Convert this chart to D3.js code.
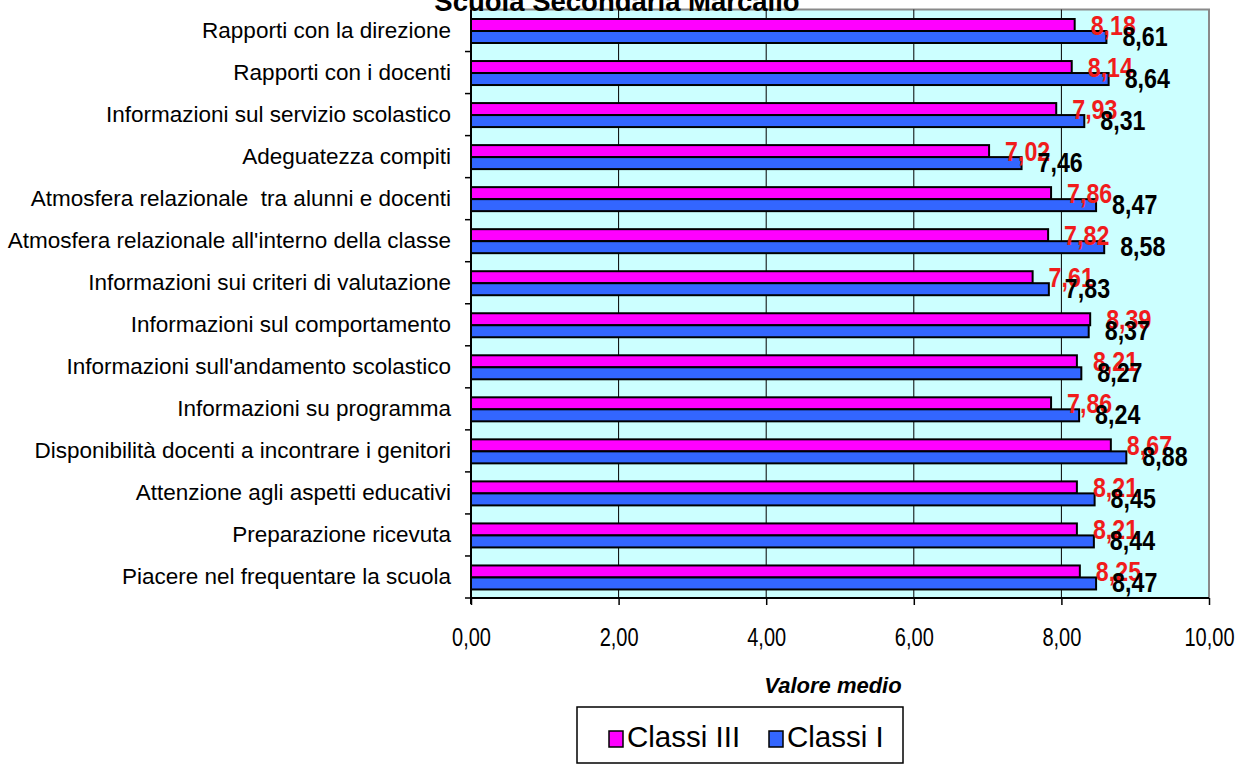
<!DOCTYPE html>
<html>
<head>
<meta charset="utf-8">
<script src="https://cdn.jsdelivr.net/npm/d3@7"></script>
<style>
  body { margin: 0; background: #fff; }
  svg { display: block; }
  text { font-family: "Liberation Sans", Arial, sans-serif; }
</style>
</head>
<body>
<div id="chart"></div>
<script>
const width = 1240, height = 764;

// data, top to bottom
const categories = [
    "Rapporti con la direzione",
    "Rapporti con i docenti",
    "Informazioni sul servizio scolastico",
    "Adeguatezza compiti",
    "Atmosfera relazionale  tra alunni e docenti",
    "Atmosfera relazionale all'interno della classe",
    "Informazioni sui criteri di valutazione",
    "Informazioni sul comportamento",
    "Informazioni sull'andamento scolastico",
    "Informazioni su programma",
    "Disponibilità docenti a incontrare i genitori",
    "Attenzione agli aspetti educativi",
    "Preparazione ricevuta",
    "Piacere nel frequentare la scuola"
];
const classiIII = [8.18, 8.14, 7.93, 7.02, 7.86, 7.82, 7.61, 8.39, 8.21, 7.86, 8.67, 8.21, 8.21, 8.25];
const classiI   = [8.61, 8.64, 8.31, 7.46, 8.47, 8.58, 7.83, 8.37, 8.27, 8.24, 8.88, 8.45, 8.44, 8.47];
const seriesNames = ["Classi III", "Classi I"];
const xTicks = [0, 2, 4, 6, 8, 10];

const colors = { "Classi III": "#ff00ff", "Classi I": "#3366ff" };
const labelColors = { "Classi III": "#f01c1c", "Classi I": "#000" };

const rows = categories.map((c, i) => ({
    cat: c,
    values: [
        { series: "Classi III", value: classiIII[i] },
        { series: "Classi I", value: classiI[i] }
    ]
}));

const plot = { left: 471, right: 1209, top: 9.5, bottom: 598 };

const svg = d3.select("#chart").append("svg")
    .attr("width", width)
    .attr("height", height);

const x = d3.scaleLinear().domain([0, 10]).range([plot.left, plot.right]);
const y = d3.scaleBand().domain(categories).range([plot.top, plot.bottom]);
const ySub = d3.scaleBand().domain(seriesNames).range([9.5, 33.5]);

const fmt = v => d3.format(".2f")(v).replace(".", ",");

// background
svg.append("rect")
    .attr("x", plot.left).attr("y", plot.top)
    .attr("width", plot.right - plot.left)
    .attr("height", plot.bottom - plot.top)
    .attr("fill", "#ccffff")
    .attr("stroke", "#8a8a8a")
    .attr("stroke-width", 2);

// gridlines
svg.append("g")
    .selectAll("line")
    .data(xTicks.filter(t => t > 0 && t < 10))
    .join("line")
    .attr("x1", d => x(d)).attr("x2", d => x(d))
    .attr("y1", plot.top).attr("y2", plot.bottom)
    .attr("stroke", "#000")
    .attr("stroke-width", 1);

// bars
const groups = svg.append("g")
    .selectAll("g")
    .data(rows)
    .join("g")
    .attr("transform", d => `translate(0,${y(d.cat)})`);

groups.selectAll("rect")
    .data(d => d.values)
    .join("rect")
    .attr("x", x(0))
    .attr("y", d => ySub(d.series))
    .attr("width", d => x(d.value) - x(0))
    .attr("height", ySub.bandwidth())
    .attr("fill", d => colors[d.series])
    .attr("stroke", "#000")
    .attr("stroke-width", 2);

// value labels (narrow bold; red first, black drawn on top)
groups.selectAll("text.val")
    .data(d => d.values)
    .join("text")
    .attr("class", "val")
    .attr("transform", d => `translate(${x(d.value) + 16},${d.series === "Classi III" ? 25.5 : 36.5}) scale(0.83,1)`)
    .attr("fill", d => labelColors[d.series])
    .attr("font-size", 28)
    .attr("font-weight", "bold")
    .text(d => fmt(d.value));

// left axis
const yAxis = svg.append("g")
    .attr("transform", `translate(${plot.left},0)`)
    .call(d3.axisLeft(y).tickSize(0).tickPadding(20));
yAxis.select(".domain").remove();
yAxis.selectAll("text")
    .attr("font-size", 22.5)
    .attr("fill", "#000")
    .attr("font-family", null)
    .style("white-space", "pre");

svg.append("line")
    .attr("x1", plot.left).attr("x2", plot.left)
    .attr("y1", plot.top).attr("y2", plot.bottom + 6)
    .attr("stroke", "#000").attr("stroke-width", 2);

svg.append("g")
    .selectAll("line")
    .data(d3.range(1, categories.length + 1))
    .join("line")
    .attr("x1", plot.left - 6).attr("x2", plot.left)
    .attr("y1", i => plot.top + i * y.step())
    .attr("y2", i => plot.top + i * y.step())
    .attr("stroke", "#000").attr("stroke-width", 1.5);

// bottom axis
const xAxis = svg.append("g")
    .attr("transform", `translate(0,${plot.bottom})`)
    .call(d3.axisBottom(x).tickValues(xTicks).tickFormat(fmt).tickSize(7));
xAxis.select(".domain").attr("stroke-width", 2).attr("d", `M${plot.left},0H${plot.right}`);
xAxis.selectAll("line").attr("stroke-width", 1.5);
xAxis.selectAll("text")
    .attr("y", 0).attr("dy", null)
    .attr("transform", "translate(0,48) scale(0.8,1)")
    .attr("font-size", 25)
    .attr("fill", "#000")
    .attr("font-family", null);

// axis title
svg.append("text")
    .attr("x", 833).attr("y", 693)
    .attr("text-anchor", "middle")
    .attr("font-size", 22)
    .attr("font-weight", "bold")
    .attr("font-style", "italic")
    .text("Valore medio");

// chart title (cut off at top)
svg.append("text")
    .attr("x", 617).attr("y", 11)
    .attr("text-anchor", "middle")
    .attr("font-size", 27.5)
    .attr("font-weight", "bold")
    .text("Scuola Secondaria Marcallo");

// legend
const legend = svg.append("g");
legend.append("rect")
    .attr("x", 577).attr("y", 707)
    .attr("width", 326).attr("height", 56)
    .attr("fill", "#fff")
    .attr("stroke", "#000")
    .attr("stroke-width", 1.5);

const legendX = [609, 769];
const items = legend.selectAll("g")
    .data(seriesNames)
    .join("g")
    .attr("transform", (d, i) => `translate(${legendX[i]},731)`);
items.append("rect")
    .attr("width", 14).attr("height", 16)
    .attr("fill", d => colors[d])
    .attr("stroke", "#000")
    .attr("stroke-width", 1.5);
items.append("text")
    .attr("x", 18).attr("y", 16)
    .attr("font-size", 29.5)
    .text(d => d);
</script>
</body>
</html>
